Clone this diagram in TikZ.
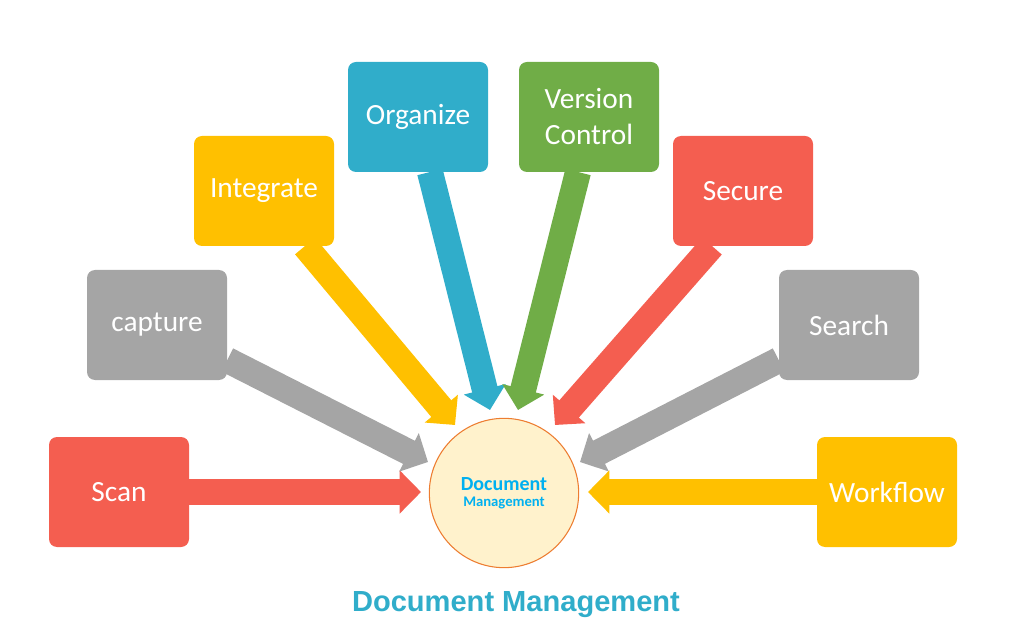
\documentclass[tikz,border=0pt]{standalone}
\usepackage{fontspec}
\setmainfont{Carlito}
\newfontfamily\titlefont{Liberation Sans}
\usetikzlibrary{arrows.meta}
\definecolor{dmred}{HTML}{F45E50}
\definecolor{dmgrey}{HTML}{A5A5A5}
\definecolor{dmyellow}{HTML}{FFC000}
\definecolor{dmblue}{HTML}{30ADCA}
\definecolor{dmgreen}{HTML}{70AD47}
\definecolor{dmcore}{HTML}{FFF2CC}
\definecolor{dmrim}{HTML}{ED7D31}
\definecolor{dmtext}{HTML}{00B0F0}
\tikzset{
  task/.style={
    rectangle, rounded corners=6pt, minimum width=105pt, minimum height=82.5pt,
    text centered, align=center, text=white, font=\fontsize{22}{27}\selectfont
  },
  arrow/.style={
    line width=19.5pt,
    -{Triangle[length=16pt,width=31.5pt]}
  }
}

\begin{document}
\begin{tikzpicture}[x=0.75pt,y=-0.75pt]
\useasboundingbox (0,0) rectangle (1031,641);

% ------------------------------------------------
% Boxes
% ------------------------------------------------

\node[task, fill=dmred] (scan) at (119,492) {Scan};
\node[task, fill=dmgrey] (capture) at (157,325) {capture};
\node[task, fill=dmyellow] (integrate) at (264,191) {Integrate};
\node[task, fill=dmblue] (organize) at (418,117) {Organize};
\node[task, fill=dmgreen] (version) at (589,117) {Version\\Control};
\node[task, fill=dmred] (secure) at (743,191) {Secure};
\node[task, fill=dmgrey] (search) at (849,325) {Search};
\node[task, fill=dmyellow] (workflow) at (887,492) {Workflow};

% ------------------------------------------------
% Centre
% ------------------------------------------------

\node[circle, draw=dmrim, line width=0.8pt, fill=dmcore, minimum size=112pt,
  align=center, text=dmtext, font=\bfseries] (dm) at (504,493)
  {{\fontsize{15}{18}\selectfont Document}\\[0pt]{\fontsize{11}{13}\selectfont Management}};

\node[font=\titlefont\bfseries\fontsize{21.8}{25}\selectfont, text=dmblue]
  (title) at (516,605) {Document Management};

% ------------------------------------------------
% Arrow tips
% ------------------------------------------------

\coordinate (tscan) at (421,492);
\coordinate (tcapture) at (428,462);
\coordinate (tintegrate) at (455,425);
\coordinate (torganize) at (490,410);
\coordinate (tversion) at (518,410);
\coordinate (tsecure) at (555,425);
\coordinate (tsearch) at (580,462);
\coordinate (tworkflow) at (588,492);

% ------------------------------------------------
% Arrows
% ------------------------------------------------

\draw[arrow, dmred] (scan.east) -- (tscan);
\draw[arrow, dmgrey] (capture.east |- 0,360) -- (tcapture);
\draw[arrow, dmyellow] (305,246) -- (tintegrate);
\draw[arrow, dmblue] (430,172) -- (torganize);
\draw[arrow, dmgreen] (578,172) -- (tversion);
\draw[arrow, dmred] (712,246) -- (tsecure);
\draw[arrow, dmgrey] (search.west |- 0,360) -- (tsearch);
\draw[arrow, dmyellow] (workflow.west) -- (tworkflow);

\end{tikzpicture}
\end{document}
